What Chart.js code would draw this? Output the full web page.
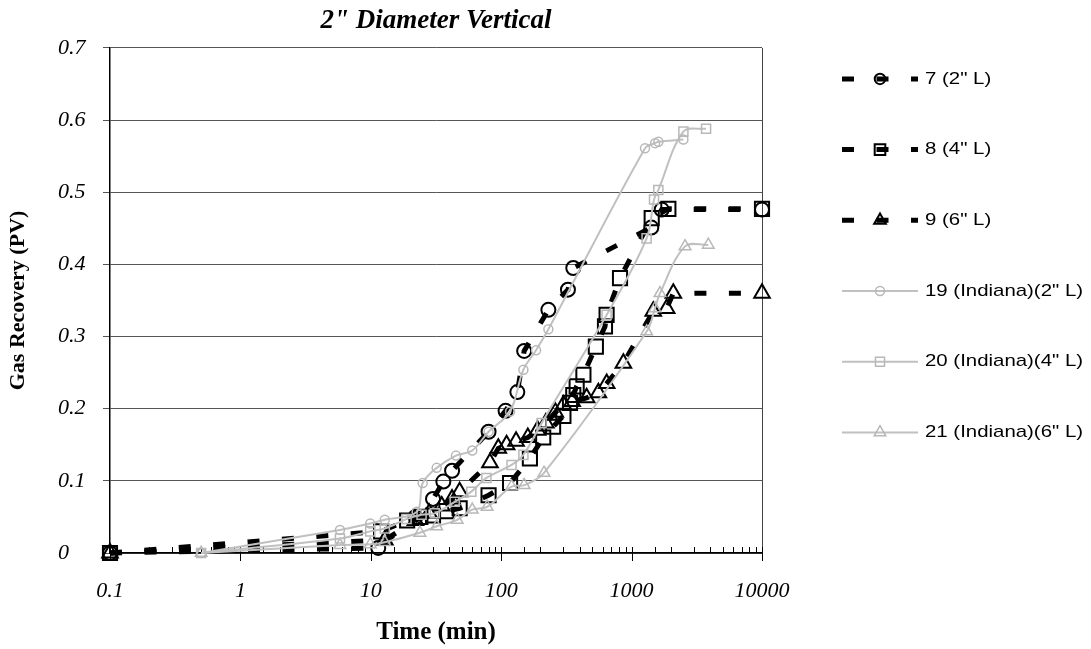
<!DOCTYPE html>
<html>
<head>
<meta charset="utf-8">
<script src="https://cdn.jsdelivr.net/npm/chart.js@4/dist/chart.umd.min.js"></script>
<style>
  html, body { margin: 0; padding: 0; background: #fff; overflow: hidden; }
  canvas { display: block; }
</style>
</head>
<body>
<canvas id="c" width="1091" height="649"></canvas>
<script>
// Gas recovery (pore volumes) against time (min) for each core run.
const timeRun7 = [0.1, 11.4, 22, 30, 36, 42, 80, 108, 133, 150, 230, 325, 357, 1416, 1702, 10000];
const recRun7  = [0, 0.007, 0.05, 0.075, 0.099, 0.114, 0.168, 0.197, 0.223, 0.28, 0.337, 0.365, 0.395, 0.451, 0.476, 0.476];

const timeRun8 = [0.1, 12, 19, 24, 30, 38, 48, 80, 117, 166, 210, 250, 300, 337, 357, 379, 427, 532, 625, 643, 815, 1426, 1914, 10000];
const recRun8  = [0, 0.03, 0.045, 0.05, 0.052, 0.058, 0.062, 0.08, 0.097, 0.131, 0.16, 0.175, 0.19, 0.208, 0.219, 0.231, 0.247, 0.286, 0.314, 0.33, 0.381, 0.464, 0.477, 0.477];

const timeRun9 = [0.1, 12.8, 22, 28, 35, 42, 48, 82, 95, 110, 130, 160, 190, 220, 260, 300, 350, 452, 556, 644, 865, 1466, 1858, 2089, 10000];
const recRun9  = [0, 0.018, 0.045, 0.055, 0.065, 0.075, 0.085, 0.125, 0.145, 0.15, 0.155, 0.16, 0.17, 0.18, 0.195, 0.205, 0.21, 0.215, 0.222, 0.235, 0.263, 0.335, 0.339, 0.36, 0.36];

const timeRun19 = [0.5, 5.8, 9.9, 12.8, 22.5, 25, 32, 45, 60, 80, 117, 148, 185, 230, 1268, 1514, 1604, 2496];
const recRun19  = [0, 0.032, 0.041, 0.046, 0.057, 0.097, 0.118, 0.135, 0.142, 0.168, 0.196, 0.254, 0.281, 0.31, 0.561, 0.568, 0.57, 0.573];

const timeRun20 = [0.5, 5.8, 9.9, 12.8, 18.8, 24.5, 31, 44, 59, 77, 120, 148, 204, 643, 1303, 1486, 1603, 2496, 3724];
const recRun20  = [0, 0.02, 0.03, 0.034, 0.047, 0.053, 0.055, 0.071, 0.085, 0.104, 0.122, 0.136, 0.18, 0.33, 0.436, 0.49, 0.503, 0.584, 0.588];

const timeRun21 = [0.5, 5.8, 9.9, 12.8, 23.8, 32, 46, 60, 78, 120, 150, 213, 1306, 1511, 1651, 2570, 3873];
const recRun21  = [0, 0.011, 0.012, 0.015, 0.028, 0.037, 0.046, 0.06, 0.064, 0.092, 0.094, 0.111, 0.307, 0.339, 0.36, 0.425, 0.427];

const runLabels = ['7 (2" L)', '8 (4" L)', '9 (6" L)', '19 (Indiana)(2" L)', '20 (Indiana)(4" L)', '21 (Indiana)(6" L)'];

const xDecades = [0.1, 1, 10, 100, 1000, 10000];
const xDecadeLabels = ['0.1', '1', '10', '100', '1000', '10000'];
const yTickValues = [0, 0.1, 0.2, 0.3, 0.4, 0.5, 0.6, 0.7];

const SERIF = '"Liberation Serif", "Times New Roman", serif';
const SANS = '"Liberation Sans", Arial, sans-serif';

const toPoints = (t, r) => t.map((v, i) => ({ x: v, y: r[i] }));

function decadeIndex(v) {
  return xDecades.findIndex(d => Math.abs(Math.log10(v) - Math.log10(d)) < 1e-6);
}

function blackRun(label, t, r, style, radius) {
  return {
    label, data: toPoints(t, r), showLine: true, xAxisID: 'x', yAxisID: 'y', clip: false,
    borderColor: '#000', borderWidth: 5, borderDash: [12, 22.5], borderCapStyle: 'butt',
    tension: 0, pointStyle: style, pointRadius: radius, pointHoverRadius: radius,
    pointBorderWidth: 2, pointBorderColor: '#000', pointBackgroundColor: 'rgba(0,0,0,0)',
    legendScale: 0.75, order: 2
  };
}

function grayRun(label, t, r, style, radius) {
  return {
    label, data: toPoints(t, r), showLine: true, xAxisID: 'x', yAxisID: 'y', clip: false,
    borderColor: '#c0c0c0', borderWidth: 2, borderDash: [],
    tension: 0.35, pointStyle: style, pointRadius: radius, pointHoverRadius: radius,
    pointBorderWidth: 1.5, pointBorderColor: '#b8b8b8', pointBackgroundColor: 'rgba(0,0,0,0)',
    legendScale: 1, order: 1
  };
}

// Minor ticks point up into the plot, decade ticks cross the axis.
const logAxisTicks = {
  id: 'logAxisTicks',
  beforeDatasetsDraw(chart) {
    const sx = chart.scales.x, ctx = chart.ctx, base = chart.chartArea.bottom;
    ctx.save();
    ctx.strokeStyle = '#000';
    ctx.lineWidth = 1;
    sx.ticks.forEach(t => {
      const px = Math.round(sx.getPixelForValue(t.value)) + 0.5;
      const major = decadeIndex(t.value) >= 0;
      ctx.beginPath();
      ctx.moveTo(px, base - 6);
      ctx.lineTo(px, major ? base + 8 : base);
      ctx.stroke();
    });
    ctx.restore();
  }
};

// Legend column to the right of the plot: line sample, marker, label.
const sideLegend = {
  id: 'sideLegend',
  afterDraw(chart) {
    const ctx = chart.ctx, area = chart.chartArea;
    const lineStart = area.right + 80, lineEnd = area.right + 156, markX = area.right + 118, textX = area.right + 163;
    const top = area.top + 31, step = 70.7;
    chart.data.datasets.forEach((ds, i) => {
      const y = top + i * step;
      ctx.save();
      ctx.strokeStyle = ds.borderColor;
      ctx.lineWidth = ds.borderWidth;
      ctx.lineCap = 'butt';
      ctx.setLineDash(ds.borderDash || []);
      ctx.beginPath();
      ctx.moveTo(lineStart, y);
      ctx.lineTo(lineEnd, y);
      ctx.stroke();
      ctx.setLineDash([]);
      ctx.strokeStyle = ds.pointBorderColor;
      ctx.fillStyle = ds.pointBackgroundColor;
      ctx.lineWidth = ds.pointBorderWidth;
      Chart.helpers.drawPoint(ctx, {
        pointStyle: ds.pointStyle, radius: ds.pointRadius * ds.legendScale,
        borderWidth: ds.pointBorderWidth, rotation: 0
      }, markX, y);
      ctx.fillStyle = '#000';
      ctx.font = '17px ' + SANS;
      ctx.textBaseline = 'middle';
      ctx.textAlign = 'left';
      ctx.translate(textX, y);
      ctx.scale(1.2, 1);
      ctx.fillText(ds.label, 0, 0);
      ctx.restore();
    });
  }
};

new Chart(document.getElementById('c'), {
  type: 'scatter',
  data: {
    datasets: [
      blackRun(runLabels[0], timeRun7, recRun7, 'circle', 7),
      blackRun(runLabels[1], timeRun8, recRun8, 'rect', 10),
      blackRun(runLabels[2], timeRun9, recRun9, 'triangle', 9),
      grayRun(runLabels[3], timeRun19, recRun19, 'circle', 4.5),
      grayRun(runLabels[4], timeRun20, recRun20, 'rect', 6.4),
      grayRun(runLabels[5], timeRun21, recRun21, 'triangle', 6.7)
    ]
  },
  plugins: [logAxisTicks, sideLegend],
  options: {
    responsive: false,
    devicePixelRatio: 1,
    animation: false,
    events: [],
    layout: { padding: { left: 0, top: 0, right: 329, bottom: 0 } },
    plugins: {
      legend: { display: false },
      tooltip: { enabled: false },
      title: {
        display: true,
        fullSize: false,
        text: '2" Diameter Vertical',
        color: '#000',
        font: { family: SERIF, size: 27, weight: 'bold', style: 'italic' },
        padding: { top: 5, bottom: 10.5 }
      }
    },
    scales: {
      x: {
        type: 'logarithmic',
        min: xDecades[0],
        max: xDecades[xDecades.length - 1],
        afterFit(scale) { scale.height = 96; },
        grid: {
          display: true,
          drawTicks: false,
          drawOnChartArea: true,
          color: c => (c.tick && decadeIndex(c.tick.value) === xDecades.length - 1) ? '#444' : 'rgba(0,0,0,0)',
          lineWidth: 1
        },
        border: { display: true, color: '#000', width: 1.5 },
        ticks: {
          autoSkip: false,
          maxRotation: 0,
          padding: 25,
          color: '#000',
          font: { family: SERIF, size: 22, style: 'italic' },
          callback: v => { const k = decadeIndex(v); return k >= 0 ? xDecadeLabels[k] : ''; }
        },
        title: {
          display: true,
          text: 'Time (min)',
          color: '#000',
          font: { family: SERIF, size: 25, weight: 'bold' },
          padding: { top: 0, bottom: 1 }
        }
      },
      y: {
        position: 'left',
        weight: 0,
        min: yTickValues[0],
        max: yTickValues[yTickValues.length - 1],
        afterFit(scale) { scale.width = 52; },
        afterBuildTicks(scale) { scale.ticks = yTickValues.map(v => ({ value: v })); },
        grid: { color: '#555', lineWidth: 1, drawTicks: true, tickLength: 7, tickColor: '#555' },
        border: { display: true, color: '#000', width: 1.5 },
        ticks: {
          crossAlign: 'far',
          padding: 17,
          color: '#000',
          font: { family: SERIF, size: 22, style: 'italic' },
          callback: v => String(Math.round(v * 10) / 10)
        }
      },
      // Outer left band that carries only the vertical axis title.
      yTitle: {
        type: 'linear',
        position: 'left',
        weight: 1,
        afterFit(scale) { scale.width = 58; },
        grid: { display: false, drawTicks: false },
        border: { display: false },
        ticks: { display: false },
        title: {
          display: true,
          text: 'Gas Recovery (PV)',
          color: '#000',
          font: { family: SERIF, size: 22, weight: 'bold' },
          padding: { top: 5, bottom: 0 }
        }
      }
    }
  }
});
</script>
</body>
</html>
